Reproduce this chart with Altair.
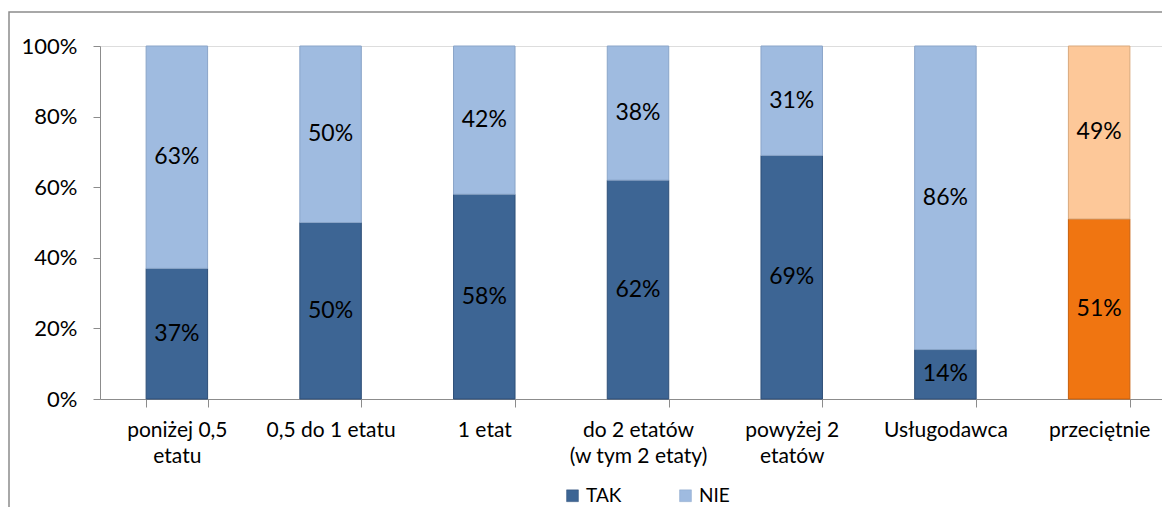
import altair as alt
import pandas as pd

categories = ["poniżej 0,5\netatu", "0,5 do 1 etatu", "1 etat", "do 2 etatów\n(w tym 2 etaty)",
              "powyżej 2\netatów", "Usługodawca", "przeciętnie"]
tak = [37, 50, 58, 62, 69, 14, 51]
nie = [63, 50, 42, 38, 31, 86, 49]
series = ["TAK", "NIE"]

rows = []
for i, c in enumerate(categories):
    avg = c == "przeciętnie"
    rows.append({"cat": c, "seria": "TAK", "kolor": "TAK_avg" if avg else "TAK", "v": tak[i] / 100, "o": 0})
    rows.append({"cat": c, "seria": "NIE", "kolor": "NIE_avg" if avg else "NIE", "v": nie[i] / 100, "o": 1})
df = pd.DataFrame(rows)

FONT = "Lato"
W, H = 1062, 353

base = alt.Chart(df).transform_stack(
    stack="v", groupby=["cat"], as_=["y0", "y1"], sort=[alt.SortField("o", order="ascending")]
).transform_calculate(mid="(datum.y0 + datum.y1) / 2")

xscale = alt.Scale(paddingInner=0.6, paddingOuter=0.3, range=[0, 1076])

xenc = alt.X("cat:N", sort=categories, title=None, scale=xscale,
             axis=alt.Axis(labelAngle=0,
                           labelExpr="datum.value ? split(datum.value, '\\n') : ''",
                           labelFont=FONT, labelFontSize=21, labelColor="black",
                           labelPadding=12, tickBand="extent", tickSize=8,
                           domainColor="#8c8c8c", tickColor="#8c8c8c", labelLineHeight=26))

bars = base.mark_bar(strokeWidth=1).encode(
    x=xenc,
    y=alt.Y("y0:Q", title=None, scale=alt.Scale(domain=[0, 1]),
            axis=alt.Axis(format="%", values=[0, 0.2, 0.4, 0.6, 0.8, 1.0], grid=False,
                          labelFont=FONT, labelFontSize=22, labelColor="black",
                          domainColor="#8c8c8c", tickColor="#8c8c8c", tickSize=7, labelPadding=16)),
    y2="y1:Q",
    color=alt.Color("kolor:N",
                    scale=alt.Scale(domain=["TAK", "NIE", "TAK_avg", "NIE_avg"],
                                    range=["#3d6594", "#9fbbe0", "#f07511", "#fdc899"]),
                    legend=alt.Legend(values=series, title=None, orient="none", direction="horizontal",
                                      legendX=463, legendY=440, labelFont=FONT, labelFontSize=19,
                                      labelColor="black", symbolType="square", symbolSize=140,
                                      columnPadding=54, symbolStrokeColor="#8c8c8c",
                                      symbolStrokeWidth=0.5)),
    stroke=alt.Stroke("kolor:N",
                      scale=alt.Scale(domain=["TAK", "NIE", "TAK_avg", "NIE_avg"],
                                      range=["#2e4f78", "#8aa5c8", "#c85f0a", "#d9a87c"]),
                      legend=None),
)

labels = base.mark_text(font=FONT, fontSize=23, color="black").encode(
    x=alt.X("cat:N", sort=categories),
    y=alt.Y("mid:Q"),
    text=alt.Text("v:Q", format=".0%"),
)

border = alt.Chart(pd.DataFrame({"a": [0]})).mark_rect(fill=None, stroke="#8c8c8c", strokeWidth=1.5).encode(
    x=alt.value(-91), x2=alt.value(W + 40), y=alt.value(-34), y2=alt.value(H + 140)
)

chart = alt.layer(border, bars, labels).properties(
    width=W, height=H,
    autosize=alt.AutoSizeParams(type="none"),
    padding={"left": 92, "top": 38, "right": 0, "bottom": 108},
).configure_view(stroke=None).configure(background="white")

chart.save("out.html", embed_options={"renderer": "svg", "actions": False})
